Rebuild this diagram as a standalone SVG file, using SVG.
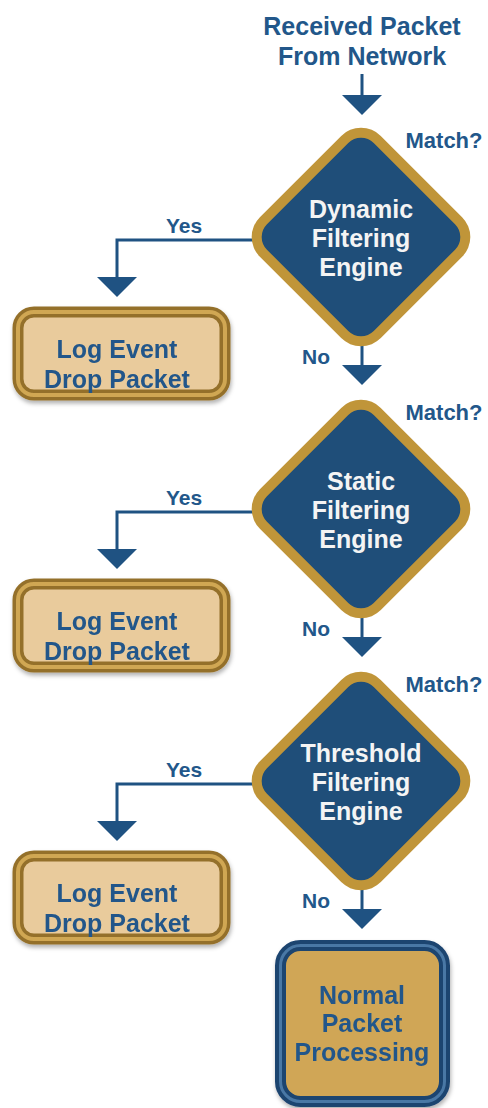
<svg xmlns="http://www.w3.org/2000/svg" width="488" height="1108" viewBox="0 0 488 1108">
<defs>
<style>
.t{font-family:"Liberation Sans",Arial,sans-serif;font-weight:bold;text-anchor:middle}
.blue{fill:#22578a}
.white{fill:#f4f4f4}
.big{font-size:25px}
.lbl{font-size:21px}
.mt{font-size:22px}
.ln{fill:none;stroke:#1f5282;stroke-width:3}
.ah{fill:#1f5282}
.dgold{fill:#c09539}
.dblue{fill:#1f4e79}
.bout{fill:none;stroke:#94702b;stroke-width:11}
.bmid{fill:none;stroke:#d0a752;stroke-width:4}
.bin{fill:#e9cb9c}
</style>
<filter id="sh" x="-10%" y="-10%" width="120%" height="130%">
<feDropShadow dx="1" dy="3" stdDeviation="2" flood-color="#000" flood-opacity="0.3"/>
</filter>
</defs>
<rect width="488" height="1108" fill="#ffffff"/>

<g id="start">
<text class="t blue big" x="362" y="35">Received Packet</text>
<text class="t blue big" x="362" y="65">From Network</text>
</g>

<g id="connectors">
<line class="ln" x1="362" y1="74" x2="362" y2="96"/>
<polygon class="ah" points="342,95 382,95 362,115"/>
<polyline class="ln" points="253,240 117,240 117,278"/>
<polygon class="ah" points="97,277 137,277 117,297"/>
<line class="ln" x1="362" y1="345" x2="362" y2="366"/>
<polygon class="ah" points="342,365 382,365 362,385"/>
<polyline class="ln" points="253,512 117,512 117,550"/>
<polygon class="ah" points="97,549 137,549 117,569"/>
<line class="ln" x1="362" y1="617" x2="362" y2="638"/>
<polygon class="ah" points="342,637 382,637 362,657"/>
<polyline class="ln" points="253,784 117,784 117,822"/>
<polygon class="ah" points="97,821 137,821 117,841"/>
<line class="ln" x1="362" y1="889" x2="362" y2="910"/>
<polygon class="ah" points="342,909 382,909 362,929"/>
<text class="t blue lbl" x="184" y="233">Yes</text>
<text class="t blue lbl" x="316" y="364">No</text>
<text class="t blue mt" x="444" y="148">Match?</text>
<text class="t blue lbl" x="184" y="505">Yes</text>
<text class="t blue lbl" x="316" y="636">No</text>
<text class="t blue mt" x="444" y="420">Match?</text>
<text class="t blue lbl" x="184" y="777">Yes</text>
<text class="t blue lbl" x="316" y="908">No</text>
<text class="t blue mt" x="444" y="692">Match?</text>
</g>

<g id="dynamic">
<rect class="dgold" x="-85.5" y="-85.5" width="171" height="171" rx="28" transform="translate(361,237) rotate(45)"/>
<rect class="dblue" x="-75.5" y="-75.5" width="151" height="151" rx="18" transform="translate(361,237) rotate(45)"/>
<text class="t white big" x="361" y="218">Dynamic</text>
<text class="t white big" x="361" y="247">Filtering</text>
<text class="t white big" x="361" y="276">Engine</text>
</g>

<g id="log1" filter="url(#sh)">
<rect class="bin" x="15" y="309" width="213" height="89" rx="18"/>
<rect class="bout" x="18" y="312" width="207" height="83" rx="16"/>
<rect class="bmid" x="18" y="312" width="207" height="83" rx="16"/>
<text class="t blue big" x="117" y="358">Log Event</text>
<text class="t blue big" x="117" y="388">Drop Packet</text>
</g>

<g id="static">
<rect class="dgold" x="-85.5" y="-85.5" width="171" height="171" rx="28" transform="translate(361,509) rotate(45)"/>
<rect class="dblue" x="-75.5" y="-75.5" width="151" height="151" rx="18" transform="translate(361,509) rotate(45)"/>
<text class="t white big" x="361" y="490">Static</text>
<text class="t white big" x="361" y="519">Filtering</text>
<text class="t white big" x="361" y="548">Engine</text>
</g>

<g id="log2" filter="url(#sh)">
<rect class="bin" x="15" y="581" width="213" height="89" rx="18"/>
<rect class="bout" x="18" y="584" width="207" height="83" rx="16"/>
<rect class="bmid" x="18" y="584" width="207" height="83" rx="16"/>
<text class="t blue big" x="117" y="630">Log Event</text>
<text class="t blue big" x="117" y="660">Drop Packet</text>
</g>

<g id="threshold">
<rect class="dgold" x="-85.5" y="-85.5" width="171" height="171" rx="28" transform="translate(361,781) rotate(45)"/>
<rect class="dblue" x="-75.5" y="-75.5" width="151" height="151" rx="18" transform="translate(361,781) rotate(45)"/>
<text class="t white big" x="361" y="762">Threshold</text>
<text class="t white big" x="361" y="791">Filtering</text>
<text class="t white big" x="361" y="820">Engine</text>
</g>

<g id="log3" filter="url(#sh)">
<rect class="bin" x="15" y="853" width="213" height="89" rx="18"/>
<rect class="bout" x="18" y="856" width="207" height="83" rx="16"/>
<rect class="bmid" x="18" y="856" width="207" height="83" rx="16"/>
<text class="t blue big" x="117" y="902">Log Event</text>
<text class="t blue big" x="117" y="932">Drop Packet</text>
</g>

<g id="normal" filter="url(#sh)">
<rect x="277" y="942" width="171" height="163" rx="22" fill="#d0a656"/>
<rect x="280.5" y="945.5" width="164" height="156" rx="20" fill="none" stroke="#1d4470" stroke-width="11"/>
<rect x="280.5" y="945.5" width="164" height="156" rx="20" fill="none" stroke="#4a78a5" stroke-width="3"/>
<text class="t blue big" x="362" y="1004">Normal</text>
<text class="t blue big" x="362" y="1032">Packet</text>
<text class="t blue big" x="362" y="1061">Processing</text>
</g>
</svg>
